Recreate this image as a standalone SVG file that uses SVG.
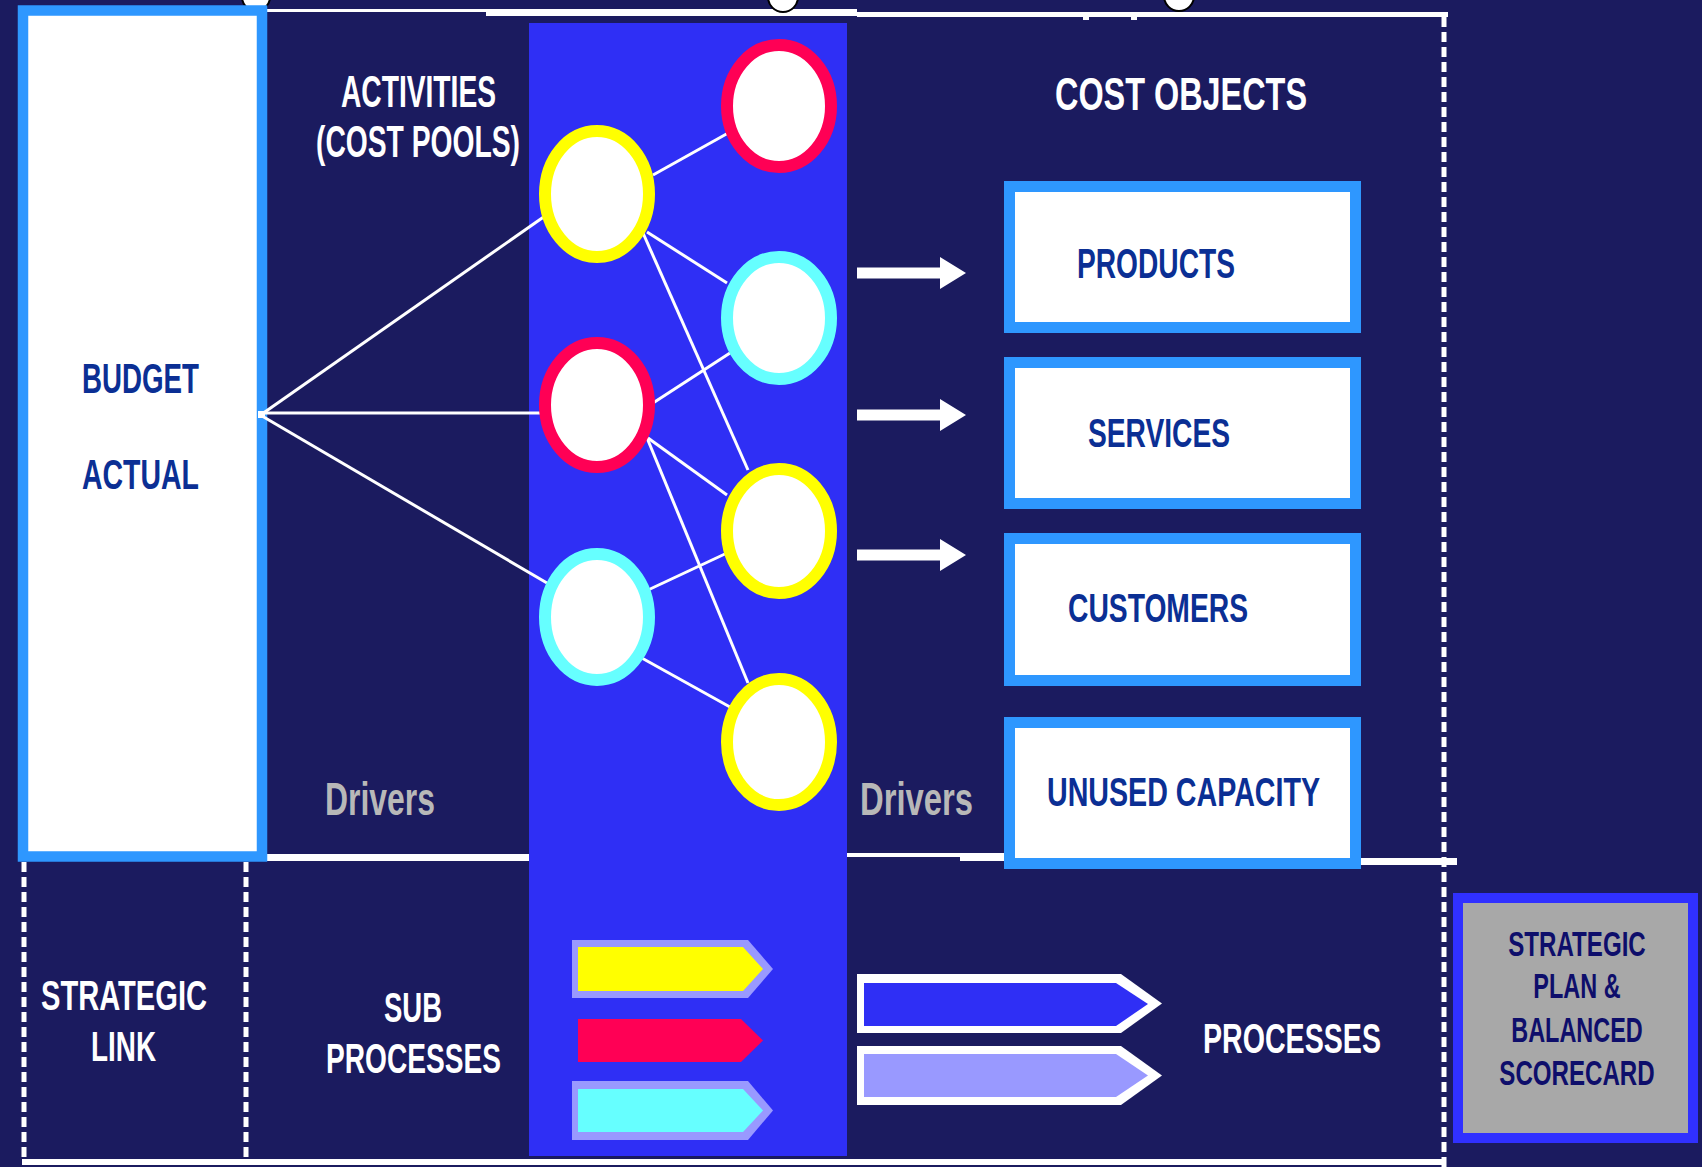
<svg xmlns="http://www.w3.org/2000/svg" width="1702" height="1167" viewBox="0 0 1702 1167">
<style>
text{font-family:"Liberation Sans",Arial,sans-serif;font-weight:bold}
.w{fill:#FFFFFF}
.db{fill:#0B2F94}
.dr{fill:#B8B8B8}
.sp{fill:#0E0E6B}
.ring{fill:#FFFFFF;stroke-width:12}
.ln{stroke:#FFFFFF;stroke-width:3;fill:none}
.dash{stroke:#FFFFFF;stroke-width:5;stroke-dasharray:10 5;fill:none}
.cbox{fill:#FFFFFF;stroke:#2E97FF;stroke-width:11}
.wl{fill:#FFFFFF}
</style>
<rect x="0" y="0" width="1702" height="1167" fill="#1B1B5F"/>

<g id="frame">
<rect class="wl" x="262" y="9" width="228" height="3"/>
<rect class="wl" x="486" y="9" width="371" height="7"/>
<rect class="wl" x="857" y="12" width="591" height="5"/>
<rect class="wl" x="1083" y="16" width="6" height="4"/>
<rect class="wl" x="1131" y="16" width="6" height="4"/>
<line class="dash" x1="1444" y1="17" x2="1444" y2="1167"/>
<rect class="wl" x="262" y="854" width="267" height="7"/>
<rect class="wl" x="840" y="853" width="164" height="4"/>
<rect class="wl" x="960" y="853" width="44" height="8"/>
<rect class="wl" x="1361" y="858" width="96" height="7"/>
<line class="dash" x1="24" y1="862" x2="24" y2="1162"/>
<line class="dash" x1="246" y1="862" x2="246" y2="1162"/>
<rect class="wl" x="22" y="1159" width="1424" height="6"/>
<circle cx="256" cy="-3" r="14" fill="#FFFFFF" stroke="#000000" stroke-width="2"/>
<circle cx="783" cy="-3" r="15" fill="#FFFFFF" stroke="#000000" stroke-width="2"/>
<circle cx="1179" cy="-4" r="15" fill="#FFFFFF" stroke="#000000" stroke-width="2"/>
</g>

<g id="activity-column">
<rect x="529" y="23" width="318" height="1133" fill="#2F2FF5"/>
</g>

<g id="budget-actual">
<rect x="23" y="10.5" width="239" height="846" fill="#FFFFFF" stroke="#2E97FF" stroke-width="10.5"/>
<text class="db" x="82" y="393" font-size="43" textLength="117" lengthAdjust="spacingAndGlyphs">BUDGET</text>
<text class="db" x="82" y="489" font-size="42" textLength="117" lengthAdjust="spacingAndGlyphs">ACTUAL</text>
</g>

<g id="activities-label">
<text class="w" x="341" y="107" font-size="44" textLength="155" lengthAdjust="spacingAndGlyphs">ACTIVITIES</text>
<text class="w" x="316" y="157" font-size="44" textLength="204" lengthAdjust="spacingAndGlyphs">(COST POOLS)</text>
</g>

<g id="cost-objects-label">
<text class="w" x="1055" y="110" font-size="47" textLength="252" lengthAdjust="spacingAndGlyphs">COST OBJECTS</text>
</g>

<g id="connectors">
<line class="ln" x1="262" y1="414" x2="545" y2="216"/>
<line class="ln" x1="262" y1="413" x2="550" y2="413"/>
<line class="ln" x1="262" y1="416" x2="547" y2="583"/>
<rect x="258" y="411" width="7" height="7" fill="#FFFFFF"/>
<line class="ln" x1="653" y1="175" x2="730" y2="132"/>
<line class="ln" x1="647" y1="232" x2="727" y2="283"/>
<line class="ln" x1="643" y1="233" x2="748" y2="470"/>
<line class="ln" x1="653" y1="403" x2="730" y2="353"/>
<line class="ln" x1="648" y1="438" x2="727" y2="495"/>
<line class="ln" x1="645" y1="433" x2="748" y2="683"/>
<line class="ln" x1="648" y1="590" x2="727" y2="553"/>
<line class="ln" x1="640" y1="657" x2="730" y2="707"/>
<path d="M857,267.5 H940 V257 L966,273 L940,289 V278.5 H857 Z" fill="#FFFFFF"/>
<path d="M857,409.5 H940 V399 L966,415 L940,431 V420.5 H857 Z" fill="#FFFFFF"/>
<path d="M857,549.5 H940 V539 L966,555 L940,571 V560.5 H857 Z" fill="#FFFFFF"/>
</g>

<g id="activity-a1"><ellipse class="ring" cx="779" cy="106" rx="52" ry="61" stroke="#FF0055"/></g>
<g id="activity-a2"><ellipse class="ring" cx="597" cy="194" rx="52" ry="63" stroke="#FFFF00"/></g>
<g id="activity-a3"><ellipse class="ring" cx="779" cy="318" rx="52" ry="61" stroke="#66FFFF"/></g>
<g id="activity-a4"><ellipse class="ring" cx="597" cy="405" rx="52" ry="62" stroke="#FF0055"/></g>
<g id="activity-a5"><ellipse class="ring" cx="779" cy="531" rx="52" ry="62" stroke="#FFFF00"/></g>
<g id="activity-a6"><ellipse class="ring" cx="597" cy="617" rx="52" ry="63" stroke="#66FFFF"/></g>
<g id="activity-a7"><ellipse class="ring" cx="779" cy="742" rx="52" ry="63" stroke="#FFFF00"/></g>

<g id="drivers-left"><text class="dr" x="325" y="815" font-size="46" textLength="110" lengthAdjust="spacingAndGlyphs">Drivers</text></g>
<g id="drivers-right"><text class="dr" x="860" y="815" font-size="46" textLength="113" lengthAdjust="spacingAndGlyphs">Drivers</text></g>

<g id="products">
<rect class="cbox" x="1009.5" y="186.5" width="346" height="141"/>
<text class="db" x="1077" y="278" font-size="42" textLength="158" lengthAdjust="spacingAndGlyphs">PRODUCTS</text>
</g>
<g id="services">
<rect class="cbox" x="1009.5" y="362.5" width="346" height="141"/>
<text class="db" x="1088" y="447" font-size="41" textLength="142" lengthAdjust="spacingAndGlyphs">SERVICES</text>
</g>
<g id="customers">
<rect class="cbox" x="1009.5" y="538.5" width="346" height="142"/>
<text class="db" x="1068" y="622" font-size="41" textLength="180" lengthAdjust="spacingAndGlyphs">CUSTOMERS</text>
</g>
<g id="unused-capacity">
<rect class="cbox" x="1009.5" y="722.5" width="346" height="141"/>
<text class="db" x="1047" y="806" font-size="41" textLength="273" lengthAdjust="spacingAndGlyphs">UNUSED CAPACITY</text>
</g>

<g id="strategic-link">
<text class="w" x="41" y="1010" font-size="43" textLength="166" lengthAdjust="spacingAndGlyphs">STRATEGIC</text>
<text class="w" x="91" y="1061" font-size="43" textLength="65" lengthAdjust="spacingAndGlyphs">LINK</text>
</g>

<g id="sub-processes">
<text class="w" x="384" y="1022" font-size="42" textLength="58" lengthAdjust="spacingAndGlyphs">SUB</text>
<text class="w" x="326" y="1073" font-size="42" textLength="175" lengthAdjust="spacingAndGlyphs">PROCESSES</text>
</g>

<g id="sub-arrow-yellow">
<polygon points="572,940 748,940 773,969 748,998 572,998" fill="#9999FF"/>
<polygon points="578,947 743,947 763,969 743,991 578,991" fill="#FFFF00"/>
</g>
<g id="sub-arrow-red">
<polygon points="578,1019 741,1019 763,1040.5 741,1062 578,1062" fill="#FF0055"/>
</g>
<g id="sub-arrow-cyan">
<polygon points="572,1081 748,1081 773,1110.5 748,1140 572,1140" fill="#9999FF"/>
<polygon points="578,1089 743,1089 763,1110.5 743,1132 578,1132" fill="#66FFFF"/>
</g>

<g id="process-arrow-1">
<polygon points="857,974 1121,974 1162,1003.5 1121,1033 857,1033" fill="#FFFFFF"/>
<polygon points="864,983 1116,983 1148,1004 1116,1026 864,1026" fill="#2F2FF5"/>
</g>
<g id="process-arrow-2">
<polygon points="857,1046 1121,1046 1162,1075.5 1121,1105 857,1105" fill="#FFFFFF"/>
<polygon points="864,1054 1116,1054 1148,1075.5 1116,1097 864,1097" fill="#9999FF"/>
</g>

<g id="processes">
<text class="w" x="1203" y="1053" font-size="42" textLength="178" lengthAdjust="spacingAndGlyphs">PROCESSES</text>
</g>

<g id="strategic-plan">
<rect x="1458" y="898" width="235" height="240" fill="#A8A8A8" stroke="#3030FF" stroke-width="10"/>
<g transform="translate(1577,0) scale(0.67,1)">
<text class="sp" x="0" y="956" font-size="36" text-anchor="middle">STRATEGIC</text>
<text class="sp" x="0" y="998" font-size="35" text-anchor="middle">PLAN &amp;</text>
<text class="sp" x="0" y="1042" font-size="35" text-anchor="middle">BALANCED</text>
<text class="sp" x="0" y="1085" font-size="36" text-anchor="middle">SCORECARD</text>
</g>
</g>
</svg>
